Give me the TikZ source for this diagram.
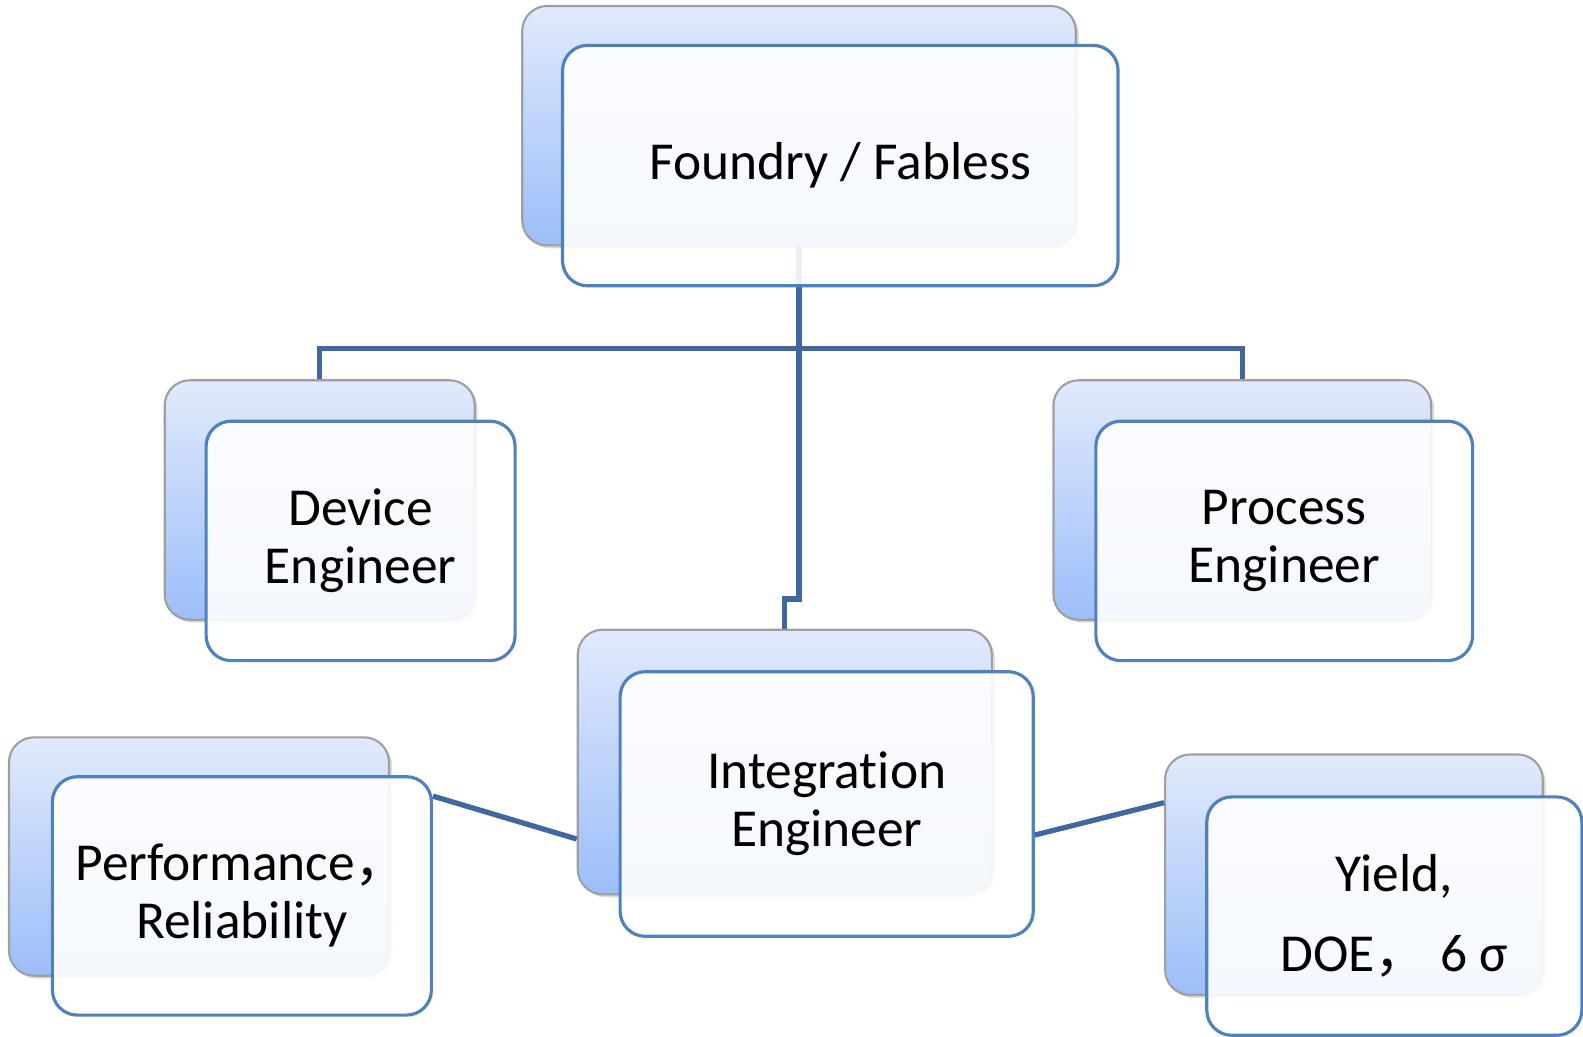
\documentclass[tikz,border=0pt]{standalone}
\usepackage{fontspec}
\setmainfont{Carlito}[Ligatures=NoCommon]
\newfontfamily\cjk{Noto Sans CJK SC}
\usepackage{xcolor}
\usepackage{tikz}
\usetikzlibrary{shadows}

\definecolor{linkblue}{HTML}{41679E}
\definecolor{edgeblue}{HTML}{4F81BD}
\definecolor{cardtop}{HTML}{E1EAFB}
\definecolor{cardbot}{HTML}{9CBEFA}

\tikzset{
	back/.style={rounded corners=0.25cm, draw=gray!75, line width=0.6pt,
		top color=cardtop, bottom color=cardbot, inner sep=0pt,
		drop shadow={opacity=0.3, shadow xshift=0.03cm, shadow yshift=-0.03cm}},
	front/.style={rounded corners=0.25cm, draw=edgeblue, line width=0.9pt,
		fill=white, fill opacity=0.9, text opacity=1, inner sep=0pt, align=center,
		font=\fontsize{15.2}{16.5}\selectfont},
	link/.style={draw=linkblue, line width=1.5pt},
}

\begin{document}
\begin{tikzpicture}
		\useasboundingbox (0,0) rectangle (15.83,10.36);
		%
		\coordinate (bus) at (7.99,6.875);
		\coordinate (jog) at (7.99,4.37);
		%
		\node[back, minimum width=5.535cm, minimum height=2.394cm] (foundB) at (7.99,9.103) {};
		\node[back, minimum width=3.10cm, minimum height=2.394cm] (devB) at (3.197,5.36) {};
		\node[back, minimum width=3.777cm, minimum height=2.394cm] (procB) at (12.423,5.36) {};
		\node[back, minimum width=4.141cm, minimum height=2.646cm] (integB) at (7.848,2.74) {};
		\node[back, minimum width=3.80cm, minimum height=2.384cm] (perfB) at (1.99,1.795) {};
		\node[back, minimum width=3.777cm, minimum height=2.404cm] (yieldB) at (13.539,1.613) {};
		%
		\path[link]
		(foundB.south) -- (bus)
		(devB.north) |- (bus) -| (procB.north)
		(bus) -- (jog) -| (integB.north);
		%
		\node[front, minimum width=5.555cm, minimum height=2.404cm] (found) at (8.403,8.704) {Foundry / Fabless};
		\node[front, minimum width=3.09cm, minimum height=2.394cm] (dev) at (3.606,4.951) {Device\\Engineer};
		\node[front, minimum width=3.767cm, minimum height=2.394cm] (proc) at (12.842,4.951) {Process\\Engineer};
		\node[front, minimum width=4.131cm, minimum height=2.646cm] (integ) at (8.267,2.32) {Integration\\Engineer};
		\node[front, minimum width=3.79cm, minimum height=2.384cm] (perf) at (2.419,1.401) {Performance{\cjk ，}\\Reliability};
		\node[front, minimum width=3.75cm, minimum height=2.384cm] (yield) at (13.943,1.199) {Yield,\\[0.22cm]DOE{\cjk ，} 6 σ};
		%
		\path[link]
		([yshift=-0.21cm]perf.north east) -- ([yshift=-0.77cm]integB.west)
		([yshift=-0.31cm]integ.east) -- ([yshift=0.72cm]yieldB.west);
	\end{tikzpicture}
\end{document}
